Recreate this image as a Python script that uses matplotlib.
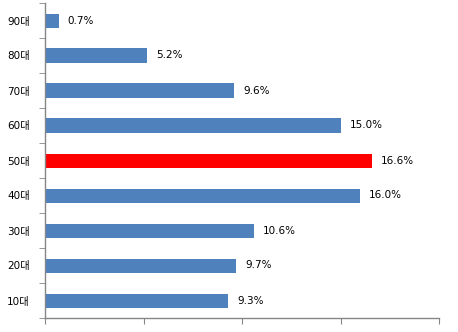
import numpy as np
import matplotlib.pyplot as plt
from matplotlib.ticker import FixedLocator

plt.rcParams['font.family'] = ['DejaVu Sans', 'Noto Sans CJK KR']

# age groups, bottom to top
ages = ['10대', '20대', '30대', '40대', '50대', '60대', '70대', '80대', '90대']
share = [9.3, 9.7, 10.6, 16.0, 16.6, 15.0, 9.6, 5.2, 0.7]
highlight = '50대'

colors = ['#FF0000' if a == highlight else '#4F81BD' for a in ages]
y = np.arange(len(ages))

fig = plt.figure(figsize=(4.58, 3.32), dpi=100)
ax = fig.add_axes([45 / 458, 14 / 332, 394 / 458, 315 / 332])

ax.barh(y, share, height=0.4, color=colors, zorder=2)
for yi, v in zip(y, share):
    ax.text(v + 0.45, yi, f'{v:.1f}%', va='center', ha='left', fontsize=7.5, color='#000000')

ax.set_xlim(0, 20)
ax.set_ylim(-0.5, len(ages) - 0.5)
ax.set_xticks([0, 5, 10, 15, 20])
ax.set_xticklabels([])
ax.set_yticks(y)
ax.set_yticklabels(ages, fontsize=7.5)
ax.yaxis.set_minor_locator(FixedLocator(np.arange(-0.5, len(ages), 1.0)))

axis_gray = '#868686'
for side in ['top', 'right']:
    ax.spines[side].set_visible(False)
for side in ['left', 'bottom']:
    ax.spines[side].set_color(axis_gray)
    ax.spines[side].set_linewidth(1.0)

ax.tick_params(axis='y', which='major', length=0, pad=11)
ax.tick_params(axis='y', which='minor', length=4, color=axis_gray, direction='out')
ax.tick_params(axis='x', which='major', length=4, color=axis_gray, direction='out')

fig.savefig('out.png', dpi=100)
